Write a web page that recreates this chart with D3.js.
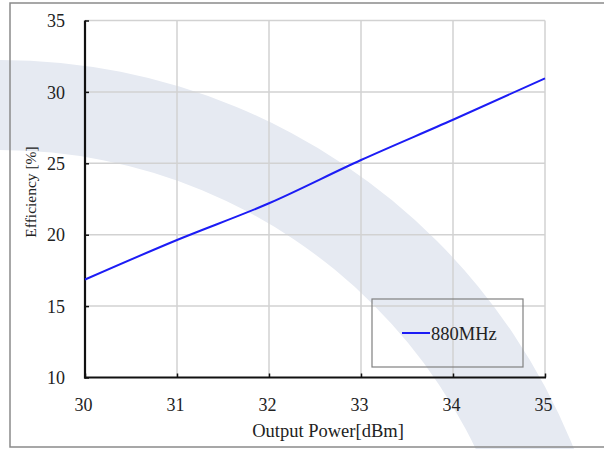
<!DOCTYPE html>
<html><head><meta charset="utf-8">
<script src="https://cdn.jsdelivr.net/npm/d3@7/dist/d3.min.js"></script>
<style>body{margin:0;background:#fff}svg{display:block}text{font-family:"Liberation Serif","Times New Roman",serif}</style>
</head><body>
<svg id="c" width="604" height="449" font-family="Liberation Serif, serif"></svg>
<script>
const xValues = [30, 31, 32, 33, 34, 35];
const efficiency880 = [16.86, 19.63, 22.2, 25.23, 28.05, 30.95];
const xTicks = [30, 31, 32, 33, 34, 35];
const yTicks = [10, 15, 20, 25, 30, 35];
const seriesName = "880MHz";
const xTitle = "Output Power[dBm]";
const yTitle = "Efficiency [%]";

const svg = d3.select("#c");
const font = "Liberation Serif, Times New Roman, serif";

// watermark arc band
svg.append("path")
  .attr("transform", "translate(0,678)")
  .attr("d", d3.arc()({innerRadius: 528, outerRadius: 618, startAngle: 0, endAngle: Math.PI}))
  .attr("fill", "#e6eaf2");

// outer border (left, top, bottom)
svg.append("path")
  .attr("d", "M604,3 H10 V447 H604")
  .attr("fill", "none").attr("stroke", "#8a8a8a").attr("stroke-width", 1.5);

const x = d3.scaleLinear().domain([30, 35]).range([85, 545]);
const y = d3.scaleLinear().domain([10, 35]).range([377.5, 20.5]);

// gridlines
const g = svg.append("g");
g.selectAll(".vx").data(xTicks.slice(1)).join("line")
  .attr("x1", d => x(d)).attr("x2", d => x(d))
  .attr("y1", y(35)).attr("y2", y(10))
  .attr("stroke", "#d2d2d2").attr("stroke-width", 1.5);
g.selectAll(".hy").data(yTicks.slice(1)).join("line")
  .attr("x1", x(30)).attr("x2", x(35))
  .attr("y1", d => y(d)).attr("y2", d => y(d))
  .attr("stroke", "#d2d2d2").attr("stroke-width", 1.5);

// axes
const fmt = d3.format("d");
const xAxis = svg.append("g").attr("transform", `translate(0,${y(10)})`)
  .call(d3.axisBottom(x).tickValues(xTicks).tickFormat(fmt).tickSize(-4).tickPadding(21).tickSizeOuter(0));
const yAxis = svg.append("g").attr("transform", `translate(${x(30)},0)`)
  .call(d3.axisLeft(y).tickValues(yTicks).tickFormat(fmt).tickSize(-4).tickPadding(20).tickSizeOuter(0));
[xAxis, yAxis].forEach(a => {
  a.attr("font-family", font).attr("font-size", 18);
  a.select(".domain").attr("stroke", "#111").attr("stroke-width", 2.2);
  a.selectAll(".tick line").attr("stroke", "#111").attr("stroke-width", 1.5);
  a.selectAll(".tick text").attr("fill", "#222");
});
xAxis.selectAll(".tick text").attr("dx", "-2");
yAxis.selectAll(".tick text").attr("dy", "0.34em");
xAxis.select(".domain").attr("d", `M${x(30)-1},0H${x(35)+1}`);
yAxis.select(".domain").attr("d", `M0,${y(35)}V${y(10)+1}`);

// series line
const pts = xValues.map((v, i) => [v, efficiency880[i]]);
svg.append("path")
  .datum(pts)
  .attr("d", d3.line().x(d => x(d[0])).y(d => y(d[1])).curve(d3.curveMonotoneX))
  .attr("fill", "none").attr("stroke", "#1c1cf5").attr("stroke-width", 2);

// axis titles
svg.append("text").attr("x", 328).attr("y", 437)
  .attr("text-anchor", "middle").attr("fill", "#222")
  .attr("font-family", font).attr("font-size", 18.5)
  .text(xTitle);
svg.append("text").attr("transform", "translate(36,192) rotate(-90)")
  .attr("text-anchor", "middle").attr("fill", "#222")
  .attr("font-family", font).attr("font-size", 15.5)
  .text(yTitle);

// legend
const lg = svg.append("g");
lg.append("rect").attr("x", 372).attr("y", 299).attr("width", 151).attr("height", 68)
  .attr("fill", "none").attr("stroke", "#808080").attr("stroke-width", 1.2);
lg.append("line").attr("x1", 402).attr("x2", 430).attr("y1", 333).attr("y2", 333)
  .attr("stroke", "#1c1cf5").attr("stroke-width", 2);
lg.append("text").attr("x", 431).attr("y", 340)
  .attr("fill", "#222").attr("font-family", font).attr("font-size", 18.5)
  .text(seriesName);
</script>
</body></html>
